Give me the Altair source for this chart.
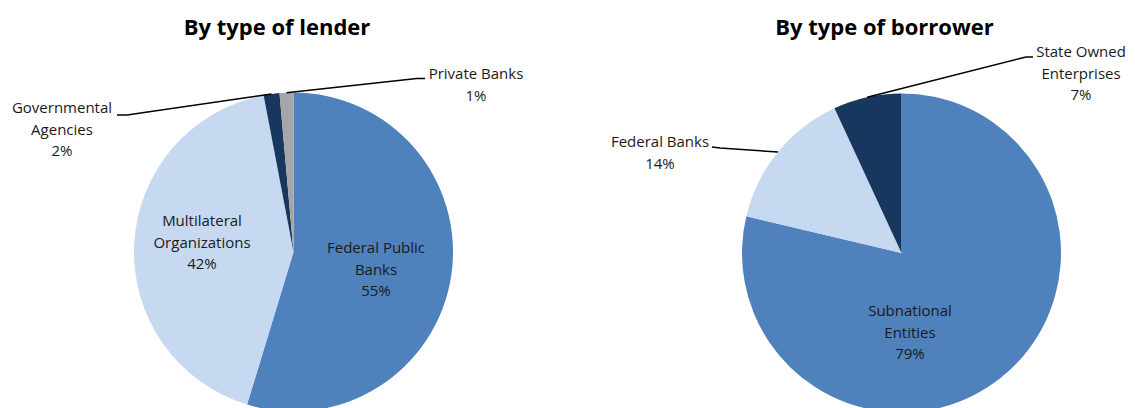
import math
import altair as alt
import pandas as pd

# ---------------- data ----------------
titles = ["By type of lender", "By type of borrower"]

lender_cats = ["Federal Public Banks", "Multilateral Organizations",
               "Governmental Agencies", "Private Banks"]
lender_vals = [54.7, 42.3, 1.6, 1.4]
lender_pct = ["55%", "42%", "2%", "1%"]
lender_lines = ["Federal Public\nBanks", "Multilateral\nOrganizations",
                "Governmental\nAgencies", "Private Banks"]

borrower_cats = ["Subnational Entities", "Federal Banks", "State Owned Enterprises"]
borrower_vals = [78.7, 14.4, 6.9]
borrower_pct = ["79%", "14%", "7%"]
borrower_lines = ["Subnational\nEntities", "Federal Banks", "State Owned\nEnterprises"]

# ---------------- styles / layout ----------------
MID, LIGHT, NAVY, GRAY = "#4F81BD", "#C6D9F1", "#17375E", "#A6A6A6"
lender_colors = [MID, LIGHT, NAVY, GRAY]
borrower_colors = [MID, LIGHT, NAVY]
FONT = "Open Sans"
R = 159.5
W, H = 1119, 400

pies = [
    dict(cats=lender_cats, vals=lender_vals, pct=lender_pct, lines=lender_lines,
         cx=285.5, cy=244, tx=269),
    dict(cats=borrower_cats, vals=borrower_vals, pct=borrower_pct, lines=borrower_lines,
         cx=893.5, cy=245, tx=876.5),
]

# label positions: centre x, first-line centre y
label_pos = {
    "Federal Public Banks": (368, 240),
    "Multilateral Organizations": (194, 213),
    "Governmental Agencies": (54, 100),
    "Private Banks": (468, 66),
    "Subnational Entities": (902, 303),
    "Federal Banks": (652, 134),
    "State Owned Enterprises": (1073, 44),
}
# leader lines: bend point, end point (start comes from slice angle)
leaders = {
    "Governmental Agencies": [(119, 107), (109, 107)],
    "Private Banks": [(408.7, 70.5), (417, 70.5)],
    "Federal Banks": [(712, 140), (704, 139)],
    "State Owned Enterprises": [(1018, 49), (1025, 49)],
}

all_cats = lender_cats + borrower_cats
all_colors = lender_colors + borrower_colors

layers = []
label_rows = []
line_rows = []
title_rows = []
for p, title in zip(pies, titles):
    df = pd.DataFrame({"category": p["cats"], "value": p["vals"],
                       "idx": list(range(len(p["cats"])))})
    layers.append(
        alt.Chart(df).mark_arc(outerRadius=R).encode(
            theta=alt.Theta("value:Q", stack=True, scale=alt.Scale(domain=[0, 100])),
            color=alt.Color("category:N", legend=None,
                            scale=alt.Scale(domain=all_cats, range=all_colors)),
            order=alt.Order("idx:Q"),
            x=alt.value(p["cx"]),
            y=alt.value(p["cy"]),
        )
    )
    total = sum(p["vals"])
    cum = 0.0
    for cat, v, pc, ln in zip(p["cats"], p["vals"], p["pct"], p["lines"]):
        mid = (cum + v / 2) / total * 2 * math.pi
        cum += v
        lx, ly = label_pos[cat]
        label_rows.append(dict(text=ln + "\n" + pc, lx=lx, ly=ly))
        if cat in leaders:
            sx = p["cx"] + R * math.sin(mid)
            sy = p["cy"] - R * math.cos(mid)
            pts = [(sx, sy)] + leaders[cat]
            for k, (x, y) in enumerate(pts):
                line_rows.append(dict(key=cat, k=k, lx=x, ly=y))
    title_rows.append(dict(text=title, lx=p["tx"], ly=27))

lines_df = pd.DataFrame(line_rows)
labels_df = pd.DataFrame(label_rows)
titles_df = pd.DataFrame(title_rows)

leader_layer = alt.Chart(lines_df).mark_line(color="#000000", strokeWidth=1.5).encode(
    x=alt.X("lx:Q", scale=None, axis=None),
    y=alt.Y("ly:Q", scale=None, axis=None),
    detail="key:N",
    order="k:Q",
)

label_layer = alt.Chart(labels_df).mark_text(
    font=FONT, fontSize=15, lineHeight=21.5, lineBreak="\n",
    align="center", baseline="middle", color="#1A1A1A"
).encode(
    x=alt.X("lx:Q", scale=None, axis=None),
    y=alt.Y("ly:Q", scale=None, axis=None),
    text="text:N",
)

title_layer = alt.Chart(titles_df).mark_text(
    font=FONT, fontSize=22, fontWeight="bold", align="center",
    baseline="alphabetic", color="#000000"
).encode(
    x=alt.X("lx:Q", scale=None, axis=None),
    y=alt.Y("ly:Q", scale=None, axis=None),
    text="text:N",
)

chart = alt.layer(*layers, leader_layer, label_layer, title_layer).properties(
    width=W, height=H, padding=0,
    autosize=alt.AutoSizeParams(type="none"),
).configure_view(stroke=None)

chart.save("out.html", embed_options={"renderer": "svg", "actions": False})
